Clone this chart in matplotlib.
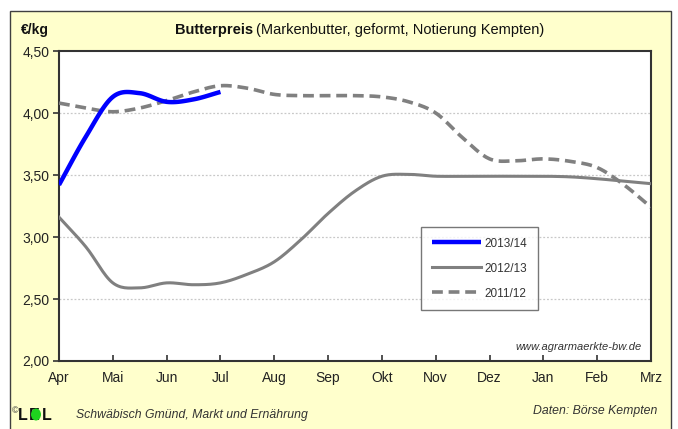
import numpy as np
import matplotlib
matplotlib.use("Agg")
import matplotlib.pyplot as plt
from matplotlib.patches import Rectangle, Ellipse

plt.rcParams['font.family'] = ['Liberation Sans', 'DejaVu Sans']

months = ["Apr", "Mai", "Jun", "Jul", "Aug", "Sep", "Okt", "Nov", "Dez", "Jan", "Feb", "Mrz"]
y_ticks = [2.0, 2.5, 3.0, 3.5, 4.0, 4.5]
y_labels = ["2,00", "2,50", "3,00", "3,50", "4,00", "4,50"]

# positions in months since April (semi-monthly readings)
t_2013 = [0, 0.5, 1, 1.5, 2, 2.5, 3]
v_2013 = [3.42, 3.81, 4.13, 4.16, 4.09, 4.11, 4.17]

t_2012 = [0, 0.5, 1, 1.5, 2, 2.5, 3, 3.5, 4, 4.5, 5, 5.5, 6, 6.5, 7, 7.5, 8, 8.5, 9, 9.5, 10, 10.5, 11]
v_2012 = [3.16, 2.92, 2.63, 2.59, 2.63, 2.615, 2.63, 2.70, 2.80, 2.98, 3.19, 3.37, 3.49, 3.505,
          3.49, 3.49, 3.49, 3.49, 3.49, 3.485, 3.47, 3.45, 3.43]

t_2011 = [0, 0.5, 1, 1.5, 2, 2.5, 3, 3.5, 4, 4.5, 5, 5.5, 6, 6.5, 7, 7.5, 8, 8.5, 9, 9.5, 10, 10.5, 11]
v_2011 = [4.08, 4.04, 4.01, 4.04, 4.10, 4.17, 4.22, 4.20, 4.15, 4.14, 4.14, 4.14, 4.13, 4.09,
          4.00, 3.80, 3.63, 3.615, 3.63, 3.61, 3.56, 3.42, 3.24]

series_labels = ["2013/14", "2012/13", "2011/12"]


def smooth(xs, ys, n=16):
    """Catmull-Rom smoothing, like Excel's smoothed line."""
    xs = np.asarray(xs, float)
    ys = np.asarray(ys, float)
    px = np.concatenate([[2 * xs[0] - xs[1]], xs, [2 * xs[-1] - xs[-2]]])
    py = np.concatenate([[2 * ys[0] - ys[1]], ys, [2 * ys[-1] - ys[-2]]])
    ox, oy = [], []
    for i in range(1, len(px) - 2):
        s = np.linspace(0, 1, n, endpoint=False)
        for arr, out in ((px, ox), (py, oy)):
            p0, p1, p2, p3 = arr[i - 1], arr[i], arr[i + 1], arr[i + 2]
            out.extend(0.5 * ((2 * p1) + (-p0 + p2) * s + (2 * p0 - 5 * p1 + 4 * p2 - p3) * s ** 2
                              + (-p0 + 3 * p1 - 3 * p2 + p3) * s ** 3))
    ox.append(xs[-1]); oy.append(ys[-1])
    return np.array(ox), np.array(oy)


W, H = 678, 429
fig = plt.figure(figsize=(W / 100, H / 100), dpi=100)
fig.patch.set_facecolor("white")
panel = Rectangle((10 / W, -0.02), 661 / W, 1 - 11 / H + 0.02, transform=fig.transFigure,
                  facecolor="#FFFFCC", edgecolor="#404040", linewidth=1.0, zorder=-10)
fig.add_artist(panel)

ax = fig.add_axes([59 / W, 1 - 361 / H, (651 - 59) / W, (361 - 51) / H])
ax.set_zorder(1)
ax.set_facecolor("white")

x, y = smooth(t_2011, v_2011)
ax.plot(x, y, color="#808080", lw=2.6, ls=(0, (3, 1.6)), label=series_labels[2], zorder=3)
x, y = smooth(t_2012, v_2012)
ax.plot(x, y, color="#808080", lw=2.2, label=series_labels[1], zorder=3)
x, y = smooth(t_2013, v_2013)
ax.plot(x, y, color="#0000FF", lw=3.2, label=series_labels[0], solid_capstyle="butt", zorder=4)

ax.set_xlim(0, 11)
ax.set_ylim(2.0, 4.5)
ax.set_xticks(range(len(months)))
ax.set_xticklabels(months, fontsize=10)
ax.set_yticks(y_ticks)
ax.set_yticklabels(y_labels, fontsize=10)
ax.tick_params(axis="x", direction="in", length=4, width=1.2, color="#333333", pad=7)
ax.tick_params(axis="y", direction="out", length=4, width=1.2, color="#333333", pad=3)
for lab in ax.get_xticklabels() + ax.get_yticklabels():
    lab.set_color("#222222")
for sp in ax.spines.values():
    sp.set_color("#333333")
    sp.set_linewidth(1.5)
for yv in y_ticks[1:-1]:
    ax.axhline(yv, color="#C8C8C8", lw=0.9, ls=(0, (1.5, 1.5)), zorder=1)

handles, labels = ax.get_legend_handles_labels()
order = [2, 1, 0]
leg = ax.legend([handles[i] for i in order], [labels[i] for i in order],
                loc="upper left", bbox_to_anchor=((421 - 59) / 592, 1 - (227 - 51) / 310),
                fontsize=8.5, frameon=True, fancybox=False, handlelength=4.2,
                borderpad=0.9, labelspacing=1.1, borderaxespad=0, handletextpad=0.3)
leg.get_frame().set_edgecolor("#555555")
leg.get_frame().set_linewidth(1.0)
for t in leg.get_texts():
    t.set_color("#333333")

ax.text(0.985, 0.03, "www.agrarmaerkte-bw.de", transform=ax.transAxes, ha="right", va="bottom",
        fontsize=8, style="italic", color="#333333")

# titles
fig.text(21 / W, 1 - 30 / H, "€/kg", fontsize=10, fontweight="bold", va="center", color="#111111")
t1 = fig.text(175 / W, 1 - 30 / H, "Butterpreis", fontsize=10.5, fontweight="bold",
              va="center", color="#111111")
fig.canvas.draw()
bb = t1.get_window_extent()
fig.text(bb.x1 / W + 0.004, 1 - 30 / H, "(Markenbutter, geformt, Notierung Kempten)",
         fontsize=10.5, va="center", color="#111111")

# footer logo
fig.text(12 / W, 1 - 411 / H, "©", fontsize=6.5, va="center", color="#333333", zorder=3)
fig.text(18 / W, 1 - 415 / H, "L", fontsize=11.5, fontweight="bold", va="center",
         color="#111111", zorder=3)
fig.text(29 / W, 1 - 415 / H, "E", fontsize=11.5, fontweight="bold", va="center", ha="left",
         color="#111111", zorder=4)
fig.add_artist(Ellipse((36 / W, 1 - 414.5 / H), 10 / W, 12 / H, transform=fig.transFigure,
                       facecolor="#1ED21E", edgecolor="none", zorder=5))
fig.text(42 / W, 1 - 415 / H, "L", fontsize=11.5, fontweight="bold", va="center",
         color="#111111", zorder=3)
fig.text(76 / W, 1 - 415 / H, "Schwäbisch Gmünd, Markt und Ernährung", fontsize=8.8,
         style="italic", va="center", color="#333333")
fig.text(657 / W, 1 - 411 / H, "Daten: Börse Kempten", fontsize=8.8, style="italic",
         va="center", ha="right", color="#333333")

fig.savefig("out.png", dpi=100)
